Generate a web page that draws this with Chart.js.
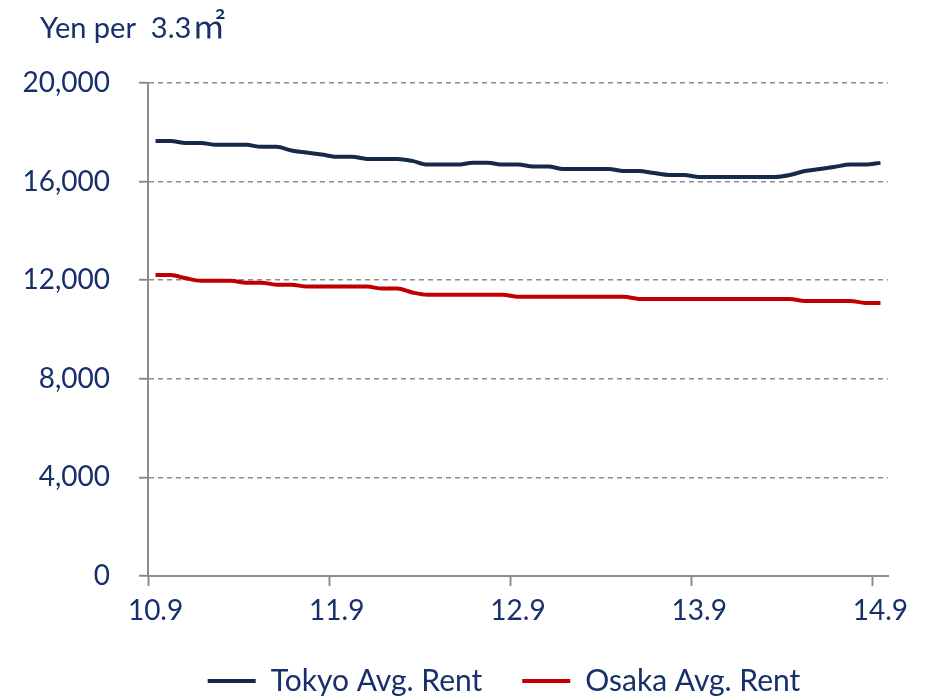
<!DOCTYPE html>
<html>
<head>
<meta charset="utf-8">
<script src="https://cdn.jsdelivr.net/npm/chart.js@4"></script>
<style>
  body { margin: 0; background: #fff; }
  #wrap { width: 925px; height: 696px; position: relative; }
</style>
</head>
<body>
<div id="wrap"><canvas id="rentChart"></canvas></div>
<script>
const months = [
  "10.9", "10.10", "10.11", "10.12",
  "11.1", "11.2", "11.3", "11.4", "11.5", "11.6", "11.7", "11.8", "11.9", "11.10", "11.11", "11.12",
  "12.1", "12.2", "12.3", "12.4", "12.5", "12.6", "12.7", "12.8", "12.9", "12.10", "12.11", "12.12",
  "13.1", "13.2", "13.3", "13.4", "13.5", "13.6", "13.7", "13.8", "13.9", "13.10", "13.11", "13.12",
  "14.1", "14.2", "14.3", "14.4", "14.5", "14.6", "14.7", "14.8", "14.9"
];

const tokyoRent = [
  17650, 17650, 17570, 17570, 17490, 17490, 17490, 17410, 17410, 17260,
  17180, 17100, 17010, 17010, 16920, 16920, 16920, 16840, 16690, 16690,
  16690, 16760, 16760, 16690, 16690, 16610, 16610, 16510, 16510, 16510,
  16510, 16430, 16430, 16350, 16270, 16270, 16190, 16190, 16190, 16190,
  16190, 16190, 16270, 16430, 16510, 16600, 16690, 16690, 16760
];

const osakaRent = [
  12210, 12210, 12080, 11980, 11980, 11980, 11900, 11900, 11820, 11820,
  11740, 11740, 11740, 11740, 11740, 11660, 11660, 11500, 11410, 11410,
  11410, 11410, 11410, 11410, 11330, 11330, 11330, 11330, 11330, 11330,
  11330, 11330, 11240, 11240, 11240, 11240, 11240, 11240, 11240, 11240,
  11240, 11240, 11240, 11160, 11160, 11160, 11160, 11080, 11080
];

const yTicks = [0, 4000, 8000, 12000, 16000, 20000];

const textColor = "#17306b";
const axisGray = "#8c8c8c";
const fontFamily = "Lato, 'Noto Sans', sans-serif";

// unit label in the top left corner
const titlePlugin = {
  id: "unitTitle",
  afterDraw(chart) {
    const c = chart.ctx;
    c.save();
    c.fillStyle = textColor;
    c.textBaseline = "alphabetic";
    c.font = "29px " + fontFamily;
    const head = "Yen per  3.3";
    c.fillText(head, 40, 38);
    const w = c.measureText(head).width;
    c.font = "33px 'Noto Sans CJK JP'";
    c.fillText("㎡", 40 + w + 1, 38);
    c.restore();
  },
};

// legend sits a bit right of the canvas centre, under the plot area
const legendShift = {
  id: "legendShift",
  afterLayout(chart) {
    if (chart.legend) {
      chart.legend.left += 60;
      chart.legend.right += 60;
    }
  },
};

const ctx = document.getElementById("rentChart");

new Chart(ctx, {
  type: "line",
  data: {
    labels: months,
    datasets: [
      {
        label: "Tokyo Avg. Rent",
        data: tokyoRent,
        borderColor: "#152a4a",
        backgroundColor: "#152a4a",
        borderWidth: 4,
        pointRadius: 0,
        cubicInterpolationMode: "monotone",
      },
      {
        label: "Osaka Avg. Rent",
        data: osakaRent,
        borderColor: "#c00000",
        backgroundColor: "#c00000",
        borderWidth: 4,
        pointRadius: 0,
        cubicInterpolationMode: "monotone",
      },
    ],
  },
  plugins: [titlePlugin, legendShift],
  options: {
    responsive: true,
    maintainAspectRatio: false,
    animation: false,
    layout: {
      padding: { top: 83, right: 37, left: 0, bottom: -10 },
    },
    plugins: {
      tooltip: { enabled: false },
      legend: {
        position: "bottom",
        labels: {
          color: textColor,
          font: { family: fontFamily, size: 30 },
          boxWidth: 48,
          boxHeight: 4,
          padding: 40,
          generateLabels(chart) {
            const items = Chart.defaults.plugins.legend.labels.generateLabels(chart);
            items.forEach((it) => { it.lineWidth = 0; });
            return items;
          },
        },
      },
    },
    scales: {
      x: {
        offset: true,
        afterFit(scale) { scale.height = 50; },
        border: { color: axisGray, width: 2 },
        grid: {
          offset: true,
          drawOnChartArea: false,
          tickLength: 10,
          tickWidth: 2,
          tickColor: (c) => (c.index % 12 === 0 ? axisGray : "transparent"),
        },
        ticks: {
          autoSkip: false,
          maxRotation: 0,
          padding: 8,
          color: textColor,
          font: { family: fontFamily, size: 28 },
          callback(value, index) {
            return index % 12 === 0 ? months[index] : "";
          },
        },
      },
      y: {
        min: 0,
        max: 20000,
        afterFit(scale) { scale.width = 148; },
        afterBuildTicks(scale) {
          scale.ticks = yTicks.map((v) => ({ value: v }));
        },
        border: { color: axisGray, width: 2, dash: [5, 4] },
        grid: {
          color: axisGray,
          lineWidth: 1.5,
          tickLength: 9,
          tickColor: axisGray,
          tickWidth: 2,
        },
        ticks: {
          padding: 29,
          color: textColor,
          font: { family: fontFamily, size: 28 },
          callback(value) {
            return value.toLocaleString("en-US");
          },
        },
      },
    },
  },
});
</script>
</body>
</html>
